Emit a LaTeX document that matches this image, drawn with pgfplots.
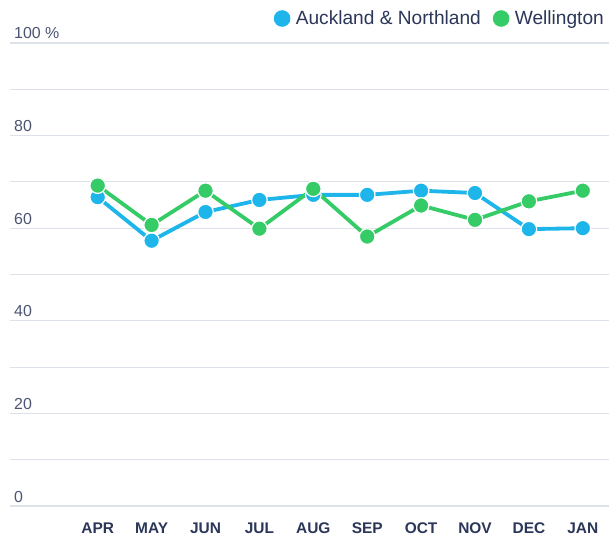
\documentclass[border=0pt]{standalone}
\usepackage{fontspec}
\setmainfont{Liberation Sans}
\usepackage{pgfplots}
\pgfplotsset{compat=1.18}
\definecolor{cblue}{HTML}{1DB5EA}
\definecolor{cgreen}{HTML}{35CB66}
\definecolor{navy}{HTML}{2B3658}
\definecolor{gridc}{HTML}{DDE1E9}
\definecolor{basec}{HTML}{A9B5CA}
\pgfplotsset{
  dotlegend/.style={legend image code/.code={\fill[##1, draw=none] (8.3bp,0) circle (8.3bp); \path[draw=none, fill=none] (0,-1bp) rectangle (22bp,1bp);}},
}
\begin{document}
\begin{tikzpicture}
\path[use as bounding box] (0,0) rectangle (609bp,539bp);
\begin{axis}[
  at={(10bp,33bp)}, anchor=south west,
  scale only axis, width=599bp, height=463bp,
  xmin=-1.627, xmax=9.486, ymin=0, ymax=100,
  axis line style={draw=none},
  major tick length=0pt, minor tick length=0pt,
  xtick={0,...,9},
  xticklabels={APR,MAY,JUN,JUL,AUG,SEP,OCT,NOV,DEC,JAN},
  xticklabel style={anchor=base, yshift=-27bp, inner sep=0pt, font=\fontsize{15.5}{18}\selectfont\bfseries, text=navy},
  ytick={0,20,40,60,80,100},
  yticklabels={0,20,40,60,80,100 \%},
  yticklabel style={anchor=base west, xshift=4bp, yshift=4bp, inner sep=0pt, font=\fontsize{16}{19}\selectfont, text=navy!85},
  minor ytick={10,30,50,70,90},
  ymajorgrids, yminorgrids,
  major grid style={draw=gridc, line width=1.1bp},
  minor grid style={draw=gridc, line width=1.1bp},
  extra y ticks={0}, extra y tick labels={},
  extra y tick style={grid style={draw=basec, line width=1.3bp}},
  legend columns=2,
  legend style={draw=none, fill=none, at={(1,1)}, anchor=south east, xshift=-5bp, yshift=16bp,
    font=\fontsize{19.2}{22}\selectfont, text=navy, inner sep=0pt,
    /tikz/every even column/.append style={column sep=12bp},
    nodes={inner sep=0pt}},
  legend cell align=left,
]
\addplot[cblue, line width=3.8bp, mark=*, mark size=7.8bp, mark options={draw=white, line width=1.2bp, fill=cblue}, dotlegend]
 coordinates {(0,66.7) (1,57.3) (2,63.5) (3,66.1) (4,67.2) (5,67.2) (6,68.1) (7,67.6) (8,59.8) (9,60.0)};
\addlegendentry{Auckland \& Northland}
\addplot[cgreen, line width=3.8bp, mark=*, mark size=7.8bp, mark options={draw=white, line width=1.2bp, fill=cgreen}, dotlegend]
 coordinates {(0,69.2) (1,60.7) (2,68.1) (3,59.9) (4,68.5) (5,58.2) (6,64.9) (7,61.8) (8,65.8) (9,68.1)};
\addlegendentry{Wellington}
\end{axis}
\end{tikzpicture}
\end{document}
